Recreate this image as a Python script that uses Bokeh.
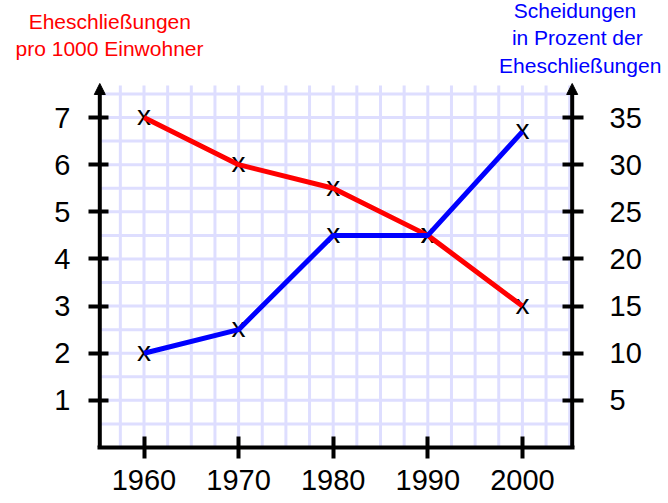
import numpy as np
from bokeh.plotting import figure
from bokeh.models import (Range1d, LinearAxis, FixedTicker, Arrow, NormalHead,
                          ColumnDataSource)
from bokeh.core.properties import value
from bokeh.embed import file_html
from bokeh.resources import INLINE

# ---- data ----
years = [1960, 1970, 1980, 1990, 2000]
marriages = [7, 6, 5.5, 4.5, 3]              # Eheschließungen pro 1000 Einwohner (left axis)
divorces = [10, 12.5, 22.5, 22.5, 33.5]      # Scheidungen in % der Eheschließungen (right axis)
left_ticks = [1, 2, 3, 4, 5, 6, 7]
right_ticks = [5, 10, 15, 20, 25, 30, 35]
x_ticks = years
left_title = ["Eheschließungen", "pro 1000 Einwohner"]
right_title = ["Scheidungen", "in Prozent der", "Eheschließungen"]

FONT = "Liberation Sans"
W = 668
HEAD_H = 78
MAIN_H = 503 - HEAD_H

# ---- header with the two axis titles (separate root, page pixel coordinates) ----
hdr = figure(width=W, height=HEAD_H, x_range=Range1d(0, W), y_range=Range1d(HEAD_H, 0),
             x_axis_type=None, y_axis_type=None, output_backend="svg",
             toolbar_location=None, min_border=0, outline_line_color=None,
             background_fill_color="white", border_fill_color="white")
hdr.grid.visible = False
hdr.text(x=[109.3, 109.0], y=[21.3, 48.0], text=left_title,
         text_color="#ff0000", text_font=value(FONT), text_font_size="21px",
         text_align="center", text_baseline="alphabetic")
hdr.text(x=[574.5, 576.8, 579.7], y=[9.7, 37.3, 64.7], text=right_title,
         text_color="#0000ff", text_font=value(FONT), text_font_size="21px",
         text_align="center", text_baseline="alphabetic")

# ---- main chart ----
X0, X1 = 1954.133, 2006.459      # frame extent (slightly wider than drawn axes)
XL, XR = 1955.328, 2005.264      # positions of the vertical axes
Y1 = 7.828
GRID_TOP = 7.68
TIP = 7.722
R_FACTOR = 5.0

p = figure(width=W, height=MAIN_H,
           x_range=Range1d(X0, X1), y_range=Range1d(0, Y1),
           output_backend="svg", toolbar_location=None,
           min_border_left=88, min_border_right=85,
           min_border_top=0, min_border_bottom=56,
           outline_line_color=None,
           background_fill_color="white", border_fill_color="white")
p.extra_y_ranges = {"right": Range1d(0, Y1 * R_FACTOR)}
p.grid.visible = False

def style_axis(ax, ticks, standoff, t_in, t_out):
    ax.ticker = FixedTicker(ticks=ticks)
    ax.axis_line_width = 4
    ax.axis_line_color = "black"
    ax.major_tick_line_width = 4
    ax.major_tick_line_color = "black"
    ax.major_tick_in = t_in
    ax.major_tick_out = t_out
    ax.minor_tick_line_color = None
    ax.major_label_text_font = FONT
    ax.major_label_text_font_size = "29px"
    ax.major_label_text_color = "black"
    ax.major_label_standoff = standoff

xax = p.xaxis[0]
style_axis(xax, x_ticks, 11, 11, 11)
xax.bounds = (XL - 0.21, XR + 0.21)
yax = p.yaxis[0]
style_axis(yax, left_ticks, 18, 20, 0)
yax.axis_line_color = None
raxis = LinearAxis(y_range_name="right")
style_axis(raxis, right_ticks, 26, 21, 0)
raxis.axis_line_color = None
p.add_layout(raxis, "right")

# grid (square paper pattern)
gx = np.arange(1957.5, XR, 2.5)
gy = np.arange(0.5, GRID_TOP, 0.5)
p.segment(x0=gx, y0=np.zeros_like(gx), x1=gx, y1=np.full_like(gx, GRID_TOP),
          line_color="#dedeff", line_width=3)
p.segment(x0=np.full_like(gy, XL), y0=gy, x1=np.full_like(gy, XR), y1=gy,
          line_color="#dedeff", line_width=3)

# vertical axis lines
p.segment(x0=[XL, XR], y0=[0, 0], x1=[XL, XR], y1=[TIP - 0.15, TIP - 0.15],
          line_color="black", line_width=4)

# markers (drawn first, lines on top)
src_m = ColumnDataSource(dict(x=years, y=marriages, t=["x"] * len(years)))
src_d = ColumnDataSource(dict(x=years, y=divorces, t=["x"] * len(years)))
for src, rng in ((src_m, "default"), (src_d, "right")):
    p.text(x="x", y="y", text="t", source=src, y_range_name=rng,
           text_font=value(FONT), text_font_size="28px", text_color="black",
           text_align="center", text_baseline="middle", y_offset=-2)

p.line(years, marriages, line_color="#ff0000", line_width=5)
p.line(years, divorces, line_color="#0000ff", line_width=5, y_range_name="right")

# arrow heads on the vertical axes
for xa in (XL, XR):
    p.add_layout(Arrow(end=NormalHead(size=11, fill_color="black", line_color="black",
                                      line_width=1),
                       x_start=xa, y_start=TIP - 0.3, x_end=xa, y_end=TIP,
                       line_color=None))

open("out.html", "w").write(file_html([hdr, p], INLINE))
